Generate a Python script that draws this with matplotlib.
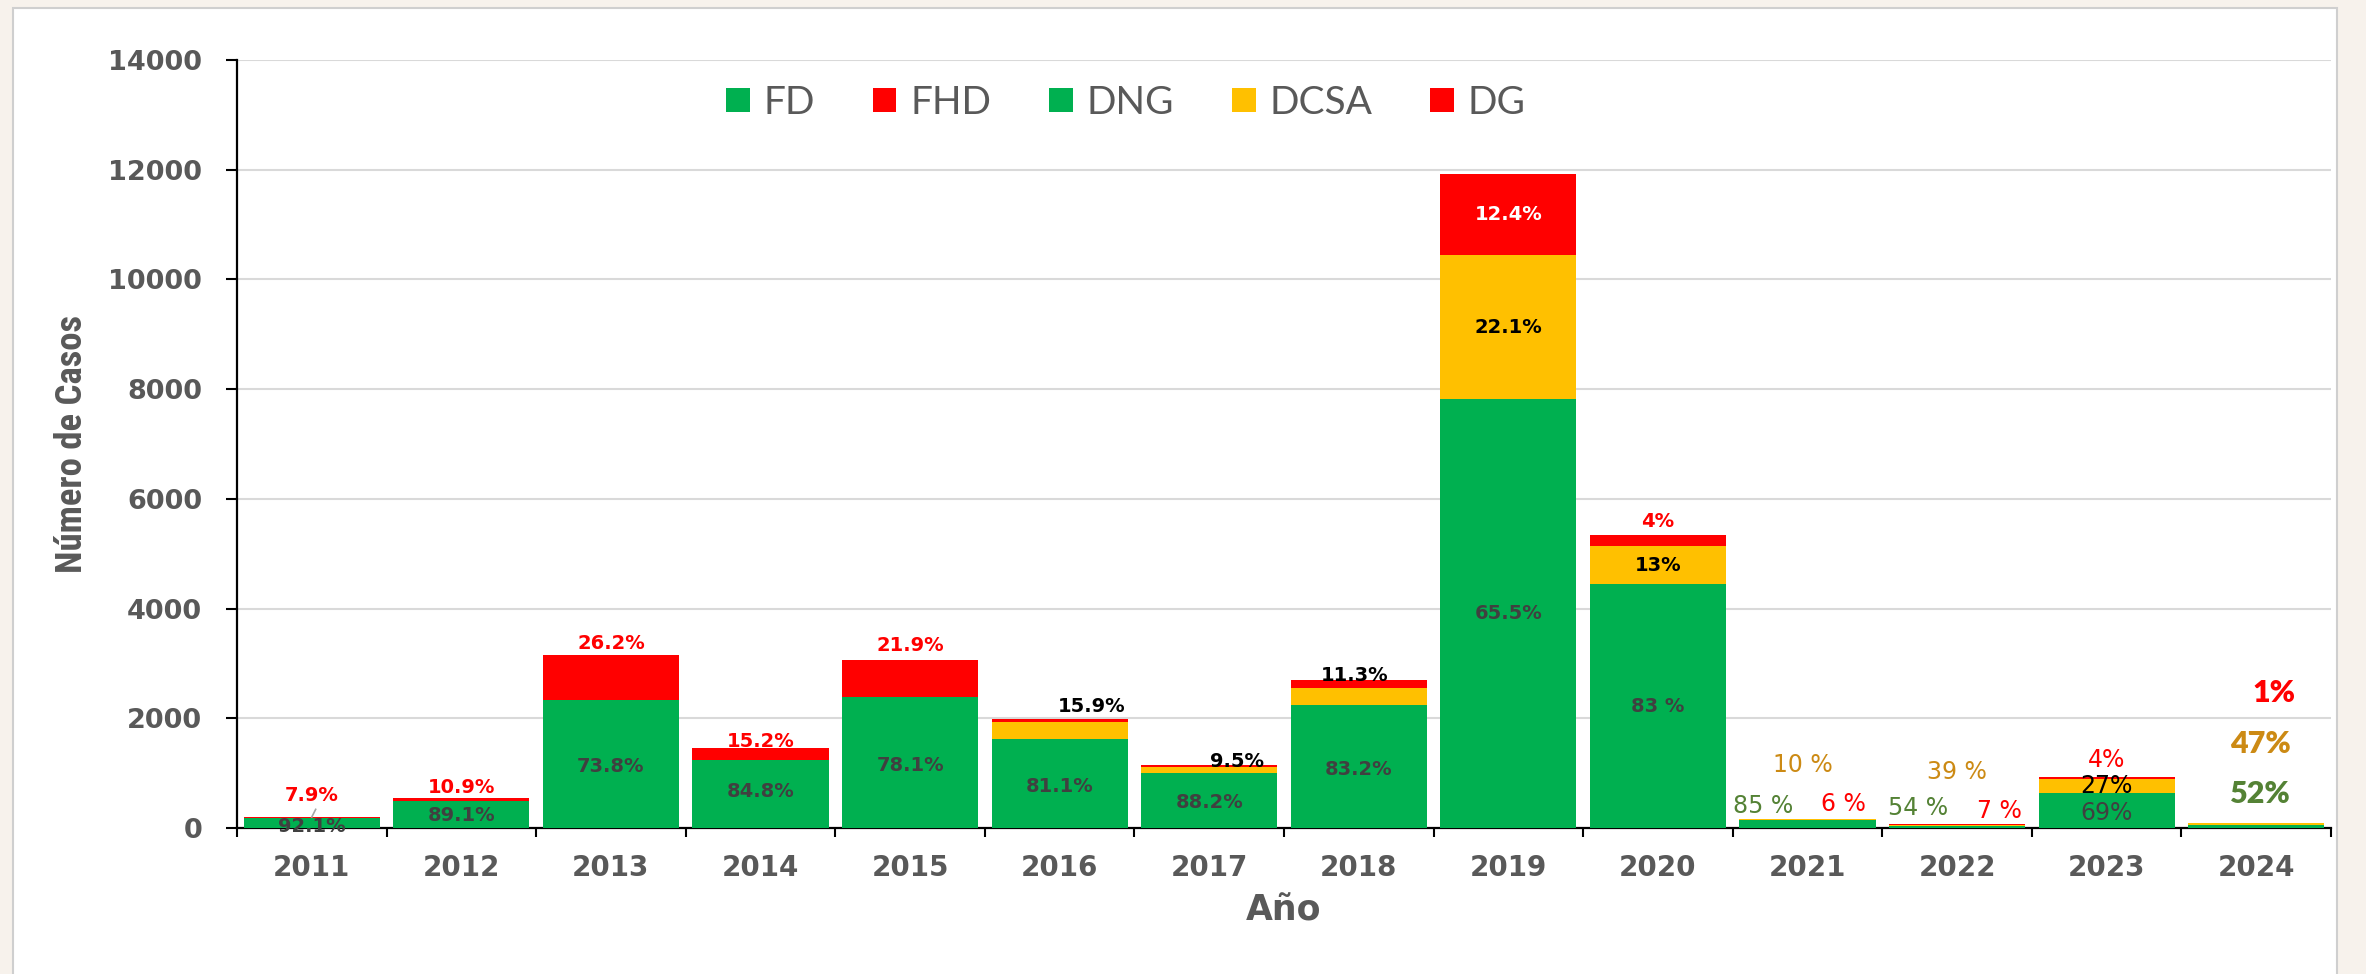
import numpy as np
import matplotlib
matplotlib.use("Agg")
import matplotlib.pyplot as plt
from matplotlib.patches import Patch, Rectangle

# ---- data -------------------------------------------------------------
years = [2011, 2012, 2013, 2014, 2015, 2016, 2017, 2018, 2019, 2020, 2021, 2022, 2023, 2024]
totals = [200, 550, 3150, 1460, 3060, 1990, 1145, 2700, 11930, 5350, 165, 65, 925, 90]

# share of each classification per year (%)
fd_pct   = [92.1, 89.1, 73.8, 84.8, 78.1, 0, 0, 0, 0, 0, 0, 0, 0, 0]
fhd_pct  = [7.9, 10.9, 26.2, 15.2, 21.9, 0, 0, 0, 0, 0, 0, 0, 0, 0]
dng_pct  = [0, 0, 0, 0, 0, 81.1, 88.2, 83.2, 65.5, 83, 85, 54, 69, 52]
dcsa_pct = [0, 0, 0, 0, 0, 15.9, 9.5, 11.3, 22.1, 13, 10, 39, 27, 47]
dg_pct   = [0, 0, 0, 0, 0, 3.0, 2.3, 5.5, 12.4, 4, 6, 7, 4, 1]

series_names = ["FD", "FHD", "DNG", "DCSA", "DG"]

# ---- style ------------------------------------------------------------
GREEN = "#00B050"
RED = "#FF0000"
YELLOW = "#FFC000"
DARK = "#404040"
GREY = "#595959"
OLIVE = "#548235"
ORANGE = "#CC8A14"
colors = {"FD": GREEN, "FHD": RED, "DNG": GREEN, "DCSA": YELLOW, "DG": RED}

pcts = {"FD": fd_pct, "FHD": fhd_pct, "DNG": dng_pct, "DCSA": dcsa_pct, "DG": dg_pct}
tot = np.array(totals, dtype=float)
pct_sum = sum(np.array(v, dtype=float) for v in pcts.values())
segs = {k: tot * np.array(v, dtype=float) / pct_sum for k, v in pcts.items()}

# stacking order: green at the bottom, yellow, red on top
stack_order = ["FD", "DNG", "DCSA", "FHD", "DG"]
bottoms = {}
run = np.zeros(len(years))
for k in stack_order:
    bottoms[k] = run.copy()
    run = run + segs[k]
tops = run

fig = plt.figure(figsize=(23.66, 9.74), dpi=100)
fig.patch.set_facecolor("#f7f2ec")
panel = Rectangle((13 / 2366, -0.01), (2337 - 13) / 2366, (974 - 8) / 974 + 0.01,
                  transform=fig.transFigure, facecolor="white",
                  edgecolor="#cfcfcf", linewidth=1.5, zorder=-10)
fig.add_artist(panel)

ax = fig.add_axes([237 / 2366, 146 / 974, (2331 - 237) / 2366, (828 - 60) / 974])
ax.set_zorder(2)
ax.set_facecolor("white")

x = np.arange(len(years))
width = 0.91
for k in stack_order:
    ax.bar(x, segs[k], width=width, bottom=bottoms[k], color=colors[k],
           linewidth=0, zorder=3)

ax.set_xlim(-0.5, len(years) - 0.5)
ax.set_ylim(0, 14000)
ax.set_yticks(np.arange(0, 14001, 2000))
ax.yaxis.grid(True, color="#d9d9d9", linewidth=1.5, zorder=0)
ax.set_axisbelow(True)

for s in ["top", "right"]:
    ax.spines[s].set_visible(False)
for s in ["left", "bottom"]:
    ax.spines[s].set_color("black")
    ax.spines[s].set_linewidth(1.6)

ax.tick_params(axis="y", direction="out", length=8, width=1.5, pad=17,
               labelsize=19.5, labelcolor=GREY)
for t in ax.get_yticklabels():
    t.set_fontweight("bold")

ax.set_xticks(np.arange(-0.5, len(years), 1.0))
ax.set_xticklabels([])
ax.set_xticks(x, minor=True)
ax.set_xticklabels([str(y) for y in years], minor=True)
ax.tick_params(axis="x", which="major", direction="out", length=6.5, width=1.5)
ax.tick_params(axis="x", which="minor", length=0, pad=19, labelsize=20, labelcolor=GREY)
for t in ax.get_xticklabels(minor=True):
    t.set_fontweight("bold")

# ---- segment labels ---------------------------------------------------
def anchor_y(i, anchor):
    if anchor == "top":
        return tops[i]
    if anchor == "abs":
        return 0.0
    key = anchor.split(":")[1]
    return bottoms[key][i] + segs[key][i] / 2


B = "bold"
N = "normal"
DJ = "DejaVu Sans"
LT = ["Lato", "DejaVu Sans"]
S = 14
label_specs = [
    (0, "7.9%", "top", 0.0, 401, RED, S, B, DJ),
    (0, "92.1%", "abs", 0.0, 36, DARK, S, B, DJ),
    (1, "10.9%", "top", 0.0, 194, RED, S, B, DJ),
    (1, "89.1%", "mid:FD", 0.0, -25, DARK, S, B, DJ),
    (2, "26.2%", "top", 0.0, 212, RED, S, B, DJ),
    (2, "73.8%", "mid:FD", 0.0, -40, DARK, S, B, DJ),
    (3, "15.2%", "top", 0.0, 110, RED, S, B, DJ),
    (3, "84.8%", "mid:FD", 0.0, 40, DARK, S, B, DJ),
    (4, "21.9%", "top", 0.0, 274, RED, S, B, DJ),
    (4, "78.1%", "mid:FD", 0.0, -47, DARK, S, B, DJ),
    (5, "15.9%", "top", 0.215, 221, "black", S, B, DJ),
    (5, "81.1%", "mid:DNG", 0.0, -54, DARK, S, B, DJ),
    (6, "9.5%", "top", 0.184, 76, "black", S, B, DJ),
    (6, "88.2%", "mid:DNG", 0.0, -49, DARK, S, B, DJ),
    (7, "11.3%", "top", -0.03, 83, "black", S, B, DJ),
    (7, "83.2%", "mid:DNG", 0.0, -48, DARK, S, B, DJ),
    (8, "12.4%", "mid:DG", 0.0, 0, "white", S, B, DJ),
    (8, "22.1%", "mid:DCSA", 0.0, 0, "black", S, B, DJ),
    (8, "65.5%", "mid:DNG", 0.0, 0, DARK, S, B, DJ),
    (9, "4%", "top", 0.0, 244, RED, S, B, DJ),
    (9, "13%", "mid:DCSA", 0.0, 0, "black", S, B, DJ),
    (9, "83 %", "mid:DNG", 0.0, 0, DARK, S, B, DJ),
    (10, "85 %", "abs", -0.30, 401, OLIVE, 17, N, DJ),
    (10, "10 %", "abs", -0.03, 1148, ORANGE, 17, N, DJ),
    (10, "6 %", "abs", 0.24, 437, RED, 17, N, DJ),
    (11, "54 %", "abs", -0.26, 365, OLIVE, 17, N, DJ),
    (11, "39 %", "abs", 0.0, 1026, ORANGE, 17, N, DJ),
    (11, "7 %", "abs", 0.28, 316, RED, 17, N, DJ),
    (12, "4%", "top", 0.0, 315, RED, 17, N, DJ),
    (12, "27%", "mid:DCSA", 0.0, 8, "black", 17, N, DJ),
    (12, "69%", "mid:DNG", 0.0, -46, DARK, 17, N, DJ),
    (13, "1%", "abs", 0.12, 2460, RED, 22, "heavy", LT),
    (13, "47%", "abs", 0.03, 1531, ORANGE, 22, "heavy", LT),
    (13, "52%", "abs", 0.03, 620, OLIVE, 22, "heavy", LT),
]

for i, text, anchor, dx, dy, col, size, weight, fam in label_specs:
    ax.text(x[i] + dx, anchor_y(i, anchor) + dy, text, ha="center", va="center",
            color=col, fontsize=size, fontweight=weight, family=fam, zorder=5)

# leader line for the small 2011 bar
ax.plot([x[0], x[0] + 0.026], [tops[0], tops[0] + 140], color="#a6a6a6",
        linewidth=1.2, zorder=4)

# ---- legend -----------------------------------------------------------
handles = [Patch(facecolor=colors[k], edgecolor="none") for k in series_names]
leg = ax.legend(handles, series_names, loc="center", bbox_to_anchor=(0.4245, 0.9445),
                ncol=5, frameon=False, handlelength=0.6, handleheight=0.6,
                handletextpad=0.35, columnspacing=1.5,
                prop={"family": ["Lato", "DejaVu Sans"], "size": 28})
for t in leg.get_texts():
    t.set_color(GREY)

# ---- axis titles ------------------------------------------------------
fig.text(72 / 2366, 0.544, "Número de Casos", rotation=90, ha="center", va="center",
         fontsize=26.5, fontweight="bold", color=GREY,
         family=["Roboto Condensed", "Roboto", "DejaVu Sans"])
fig.text(1284 / 2366, 0.0647, "Año", ha="center", va="center", fontsize=25,
         fontweight="bold", color=GREY, family="DejaVu Sans")

fig.savefig("out.png", dpi=100, facecolor=fig.get_facecolor())
